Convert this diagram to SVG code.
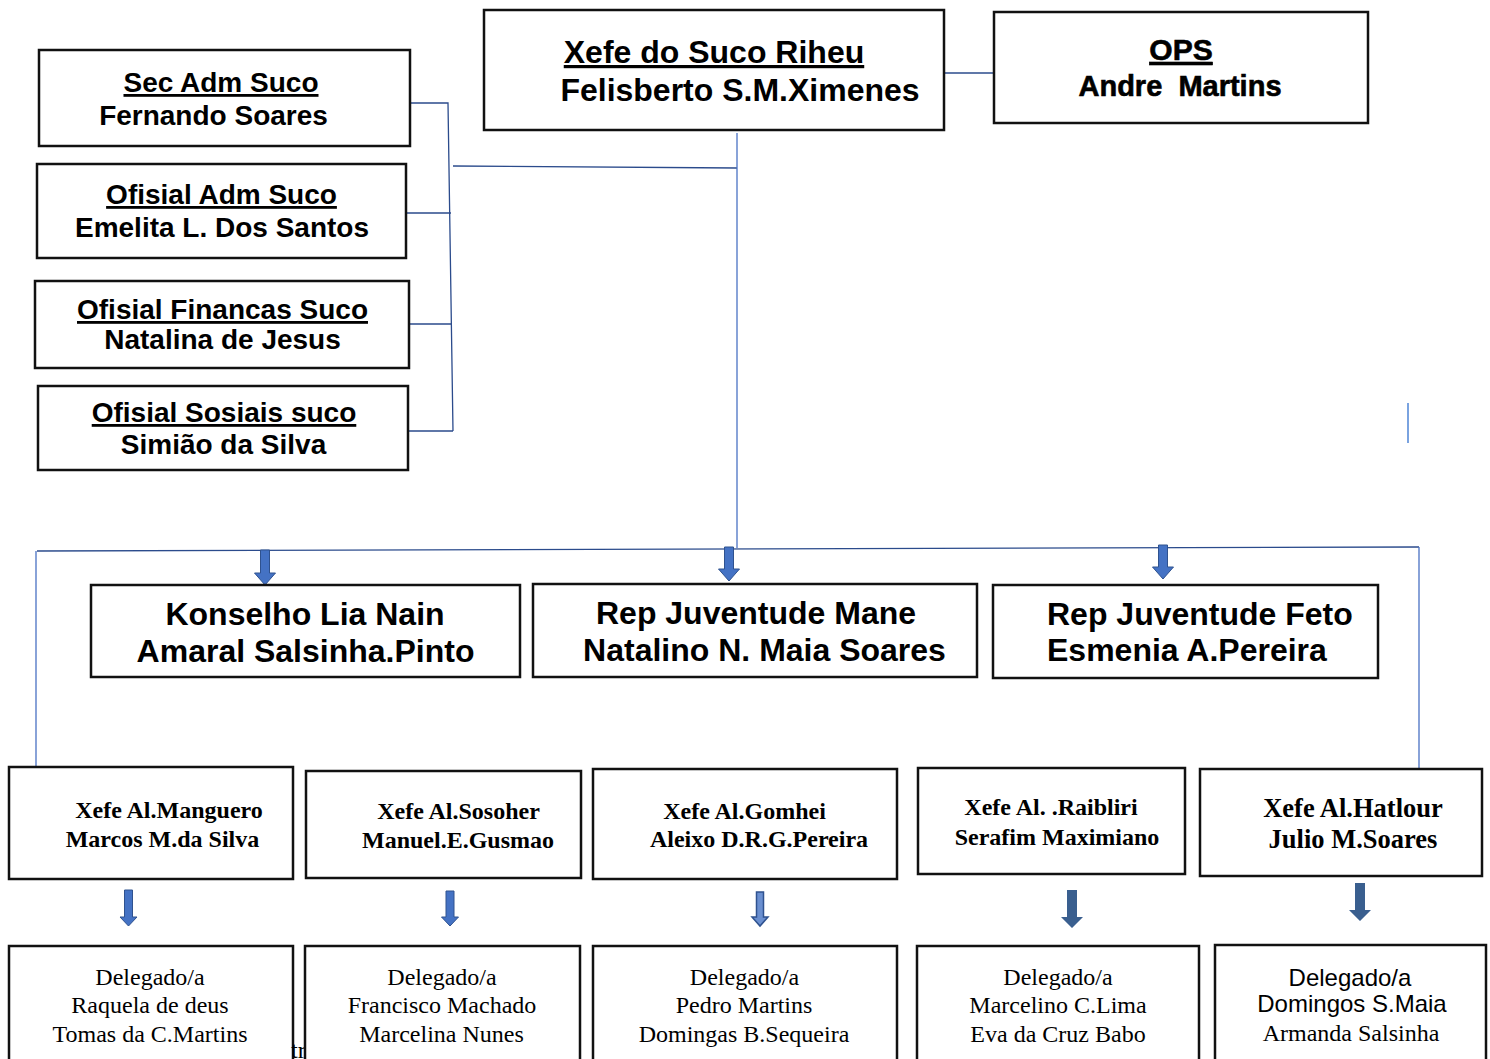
<svg xmlns="http://www.w3.org/2000/svg" width="1490" height="1059" viewBox="0 0 1490 1059">
<style>
.box{fill:#fff;stroke:#111;stroke-width:2.5}
.sb{font-family:"Liberation Sans",Arial,sans-serif;font-weight:bold;fill:#000}
.s{font-family:"Liberation Sans",Arial,sans-serif;fill:#000}
.tb{font-family:"Liberation Serif","Times New Roman",serif;font-weight:bold;fill:#000}
.t{font-family:"Liberation Serif","Times New Roman",serif;fill:#000}
.u{text-decoration:underline}
.m{text-anchor:middle}
.hv{stroke:#000;stroke-width:0.6}
.ln{fill:none;stroke:#2b4b8c;stroke-width:1.3}
.lb{fill:none;stroke:#4a72c4;stroke-width:1.3}
.ar{fill:#4472c4;stroke:#2f528f;stroke-width:1}
.ard{fill:#3a5f8f;stroke:none}
.arl{fill:#6a8fd0;stroke:#2f528f;stroke-width:1.5}
</style>
<rect width="1490" height="1059" fill="#fff"/>

<g id="connectors">
<path class="ln" d="M410,103 H448 L453,431 M406,213 H451 M406,324 H451 M409,431 H453"/>
<path class="ln" d="M453,166 L737,168"/>
<path class="lb" d="M737,133 V548"/>
<path class="ln" d="M944,73 H995"/>
<path class="ln" d="M37,551 L1419,547"/>
<path class="lb" d="M36,551 V767 M1419,547 V769"/>
<path d="M1408,403 V443" fill="none" stroke="#7aa3e0" stroke-width="2"/>
<path class="ar" d="M260.5,550 h9 v23 h6 l-10.5,12 l-10.5,-12 h6 z"/>
<path class="ar" d="M724.5,547 h9 v22 h6 l-10.5,12 l-10.5,-12 h6 z"/>
<path class="ar" d="M1158.5,545 h9 v22 h6 l-10.5,12 l-10.5,-12 h6 z"/>
<path class="ar" d="M124.5,890 h8 v27 h4.5 l-8.5,9 l-8.5,-9 h4.5 z"/>
<path class="ar" d="M446,891 h8 v26 h4.5 l-8.5,9 l-8.5,-9 h4.5 z"/>
<path class="arl" d="M756.5,892 h7 v25 h4.5 l-8,9 l-8,-9 h4.5 z"/>
<path class="ard" d="M1067,890 h10 v27 h6 l-11,11 l-11,-11 h6 z"/>
<path class="ard" d="M1355,883 h10 v27 h6 l-11,11 l-11,-11 h6 z"/>
</g>

<g id="sec-adm">
<rect class="box" x="39" y="50" width="371" height="96"/>
<text class="sb u m" x="221" y="92" font-size="28">Sec Adm Suco</text>
<text class="sb m" x="213.5" y="125" font-size="28">Fernando Soares</text>
</g>
<g id="ofisial-adm">
<rect class="box" x="37" y="164" width="369" height="94"/>
<text class="sb u m" x="221.5" y="204" font-size="28">Ofisial Adm Suco</text>
<text class="sb m" x="222" y="237" font-size="28">Emelita L. Dos Santos</text>
</g>
<g id="ofisial-financas">
<rect class="box" x="35" y="281" width="374" height="87"/>
<text class="sb u m" x="222.5" y="319" font-size="28">Ofisial Financas Suco</text>
<text class="sb m" x="222.5" y="349" font-size="28">Natalina de Jesus</text>
</g>
<g id="ofisial-sosiais">
<rect class="box" x="38" y="386" width="370" height="84"/>
<text class="sb u m" x="224" y="422" font-size="28">Ofisial Sosiais suco</text>
<text class="sb m" x="223.5" y="454" font-size="28">Simião da Silva</text>
</g>

<g id="xefe-suco">
<rect class="box" x="484" y="10" width="460" height="120"/>
<text class="sb u m" x="714" y="63" font-size="32">Xefe do Suco Riheu</text>
<text class="sb m" x="740" y="101" font-size="32">Felisberto S.M.Ximenes</text>
</g>
<g id="ops">
<rect class="box" x="994" y="12" width="374" height="111"/>
<text class="sb u m hv" x="1181" y="60" font-size="30">OPS</text>
<text class="sb m hv" x="1180" y="96" font-size="29" xml:space="preserve">Andre  Martins</text>
</g>

<g id="konselho">
<rect class="box" x="91" y="585" width="429" height="92"/>
<text class="sb m" x="305" y="625" font-size="32">Konselho Lia Nain</text>
<text class="sb m" x="305.5" y="662" font-size="32">Amaral Salsinha.Pinto</text>
</g>
<g id="rep-mane">
<rect class="box" x="533" y="584" width="444" height="93"/>
<text class="sb m" x="756" y="624" font-size="32">Rep Juventude Mane</text>
<text class="sb m" x="764.5" y="661" font-size="32">Natalino N. Maia Soares</text>
</g>
<g id="rep-feto">
<rect class="box" x="993" y="585" width="385" height="93"/>
<text class="sb" x="1047" y="625" font-size="32">Rep Juventude Feto</text>
<text class="sb" x="1047" y="661" font-size="32">Esmenia A.Pereira</text>
</g>

<g id="al-manguero">
<rect class="box" x="9" y="767" width="284" height="112"/>
<text class="tb m" x="169" y="818" font-size="24">Xefe Al.Manguero</text>
<text class="tb m" x="162.5" y="847" font-size="24">Marcos M.da Silva</text>
</g>
<g id="al-sosoher">
<rect class="box" x="306" y="771" width="275" height="107"/>
<text class="tb m" x="458.5" y="819" font-size="24">Xefe Al.Sosoher</text>
<text class="tb m" x="458" y="848" font-size="24">Manuel.E.Gusmao</text>
</g>
<g id="al-gomhei">
<rect class="box" x="593" y="769" width="304" height="110"/>
<text class="tb m" x="744.5" y="819" font-size="24">Xefe Al.Gomhei</text>
<text class="tb m" x="759" y="847" font-size="24">Aleixo D.R.G.Pereira</text>
</g>
<g id="al-raibliri">
<rect class="box" x="918" y="768" width="267" height="106"/>
<text class="tb m" x="1051" y="815" font-size="24">Xefe Al. .Raibliri</text>
<text class="tb m" x="1057" y="845" font-size="24">Serafim Maximiano</text>
</g>
<g id="al-hatlour">
<rect class="box" x="1200" y="769" width="282" height="107"/>
<text class="tb m" x="1353" y="817" font-size="26.5">Xefe Al.Hatlour</text>
<text class="tb m" x="1353" y="848" font-size="26.5">Julio M.Soares</text>
</g>

<g id="del-manguero">
<rect class="box" x="9" y="946" width="284" height="130"/>
<text class="t m" x="150" y="985" font-size="24">Delegado/a</text>
<text class="t m" x="150" y="1013" font-size="24">Raquela de deus</text>
<text class="t m" x="150" y="1042" font-size="24">Tomas da C.Martins</text>
</g>
<g id="fragment">
<text class="t" x="291" y="1058" font-size="24">tr</text>
</g>
<g id="del-sosoher">
<rect class="box" x="305" y="946" width="275" height="130"/>
<text class="t m" x="442" y="985" font-size="24">Delegado/a</text>
<text class="t m" x="442" y="1013" font-size="24">Francisco Machado</text>
<text class="t m" x="441.5" y="1042" font-size="24">Marcelina Nunes</text>
</g>
<g id="del-gomhei">
<rect class="box" x="593" y="946" width="304" height="130"/>
<text class="t m" x="744.5" y="985" font-size="24">Delegado/a</text>
<text class="t m" x="744" y="1013" font-size="24">Pedro Martins</text>
<text class="t m" x="744" y="1042" font-size="24">Domingas B.Sequeira</text>
</g>
<g id="del-raibliri">
<rect class="box" x="917" y="946" width="282" height="130"/>
<text class="t m" x="1058" y="985" font-size="24">Delegado/a</text>
<text class="t m" x="1058" y="1013" font-size="24">Marcelino C.Lima</text>
<text class="t m" x="1058" y="1042" font-size="24">Eva da Cruz Babo</text>
</g>
<g id="del-hatlour">
<rect class="box" x="1215" y="945" width="271" height="130"/>
<text class="s m" x="1350" y="986" font-size="24">Delegado/a</text>
<text class="s m" x="1352" y="1012" font-size="24">Domingos S.Maia</text>
<text class="t m" x="1351" y="1041" font-size="24">Armanda Salsinha</text>
</g>
</svg>
